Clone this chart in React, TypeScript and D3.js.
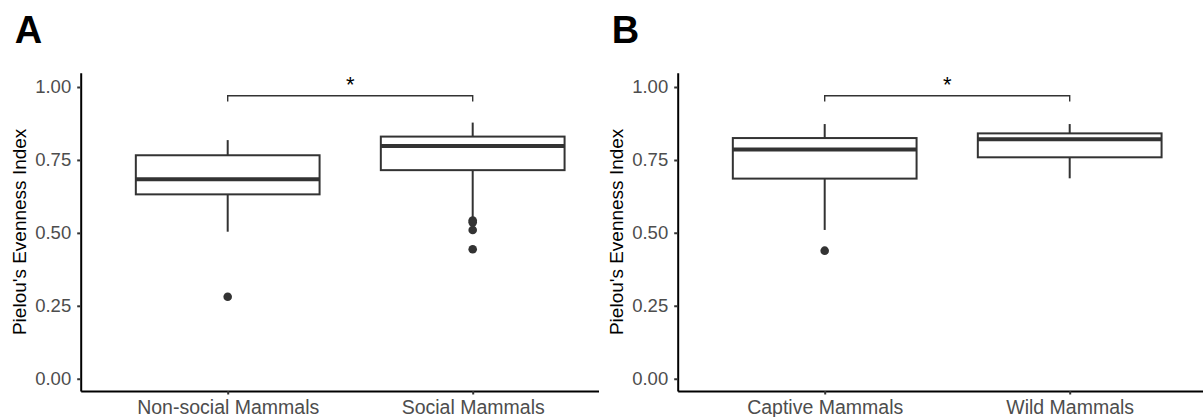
import * as d3 from "d3";
import { useEffect, useRef } from "react";

// categories
const groupsA = ["Non-social Mammals", "Social Mammals"];
const groupsB = ["Captive Mammals", "Wild Mammals"];
const yTicks = [0, 0.25, 0.5, 0.75, 1];

// box stats (one entry per category)
const lowA = [0.504, 0.55];
const q1A = [0.632, 0.715];
const medA = [0.684, 0.798];
const q3A = [0.766, 0.83];
const highA = [0.818, 0.878];
const outA = [[0.281], [0.542, 0.536, 0.51, 0.444]];

const lowB = [0.51, 0.687];
const q1B = [0.686, 0.759];
const medB = [0.786, 0.821];
const q3B = [0.825, 0.841];
const highB = [0.873, 0.873];
const outB = [[0.439], []];

// significance bracket
const bracketY = 0.97;
const bracketTick = 0.95;
const sigLabel = "*";

const W = 1203;
const H = 417;
const top = 72.7;
const bottom = 391;
const font = "'Liberation Sans', Arial, sans-serif";

function Panel(props) {
  const axRef = useRef(null);
  const { left, cats, low, q1, med, q3, high, out, tag, clipW, id } = props;

  const y = d3.scaleLinear().domain([-0.042, 1.049]).range([bottom, top]);
  const step = 245;
  const x = d3.scalePoint().domain(cats).range([left, left + 2.2 * step]).padding(0.6);
  const bw = 0.75 * step;

  useEffect(() => {
    const g = d3.select(axRef.current);
    g.selectAll("*").remove();

    const ya = g.append("g").attr("transform", "translate(" + left + ",0)")
      .call(d3.axisLeft(y).tickValues(yTicks).tickFormat(d3.format(".2f")).tickSize(3.5).tickSizeOuter(0).tickPadding(6));
    ya.select(".domain").attr("stroke", "#000").attr("stroke-width", 2);
    ya.selectAll(".tick line").attr("stroke", "#333").attr("stroke-width", 2);
    ya.selectAll(".tick text").attr("fill", "#4D4D4D").style("font-size", "18.5px").style("font-family", font);

    const xa = g.append("g").attr("transform", "translate(0," + bottom + ")")
      .call(d3.axisBottom(x).tickSize(3.5).tickSizeOuter(0).tickPadding(5.7));
    xa.select(".domain").attr("stroke", "#000").attr("stroke-width", 2);
    xa.selectAll(".tick line").attr("stroke", "#333").attr("stroke-width", 2);
    xa.selectAll(".tick text").attr("fill", "#4D4D4D").style("font-size", "19.5px").style("font-family", font);
  }, []);

  const x0 = x(cats[0]);
  const x1 = x(cats[1]);

  return (
    <g clipPath={"url(#" + id + ")"}>
      <defs>
        <clipPath id={id}>
          <rect x={left - 90} y={0} width={clipW} height={H} />
        </clipPath>
      </defs>
      <text x={left - 66} y={43} fontFamily={font} fontWeight="bold" fontSize={38} fill="#000">{tag}</text>
      <text transform={"translate(" + (left - 55) + "," + (top + bottom) / 2 + ") rotate(-90)"}
        textAnchor="middle" fontFamily={font} fontSize={19} fill="#000">Pielou's Evenness Index</text>

      {cats.map((c, i) => {
        const cx = x(c);
        return (
          <g key={c}>
            <line x1={cx} x2={cx} y1={y(q3[i])} y2={y(high[i])} stroke="#333" strokeWidth={2} />
            <line x1={cx} x2={cx} y1={y(q1[i])} y2={y(low[i])} stroke="#333" strokeWidth={2} />
            <rect x={cx - bw / 2} y={y(q3[i])} width={bw} height={y(q1[i]) - y(q3[i])}
              fill="#fff" stroke="#333" strokeWidth={2} />
            <line x1={cx - bw / 2} x2={cx + bw / 2} y1={y(med[i])} y2={y(med[i])} stroke="#333" strokeWidth={4} />
            {out[i].map((v, j) => (
              <circle key={j} cx={cx} cy={y(v)} r={4.3} fill="#333" />
            ))}
          </g>
        );
      })}

      <path d={"M" + x0 + "," + y(bracketTick) + "V" + y(bracketY) + "H" + x1 + "V" + y(bracketTick)}
        fill="none" stroke="#333" strokeWidth={1.4} />
      <text x={(x0 + x1) / 2} y={92} textAnchor="middle" fontFamily={font} fontSize={22} fill="#000">{sigLabel}</text>

      <g ref={axRef} />
    </g>
  );
}

export default function App() {
  return (
    <svg width={W} height={H} style={{ position: "absolute", left: 0, top: 0, background: "#fff" }}>
      <rect width={W} height={H} fill="#fff" />
      <Panel id="clipA" tag="A" left={80.7} cats={groupsA} low={lowA} q1={q1A} med={medA} q3={q3A}
        high={highA} out={outA} clipW={599 - (80.7 - 90)} />
      <Panel id="clipB" tag="B" left={677.7} cats={groupsB} low={lowB} q1={q1B} med={medB} q3={q3B}
        high={highB} out={outB} clipW={W - (677.7 - 90)} />
    </svg>
  );
}
